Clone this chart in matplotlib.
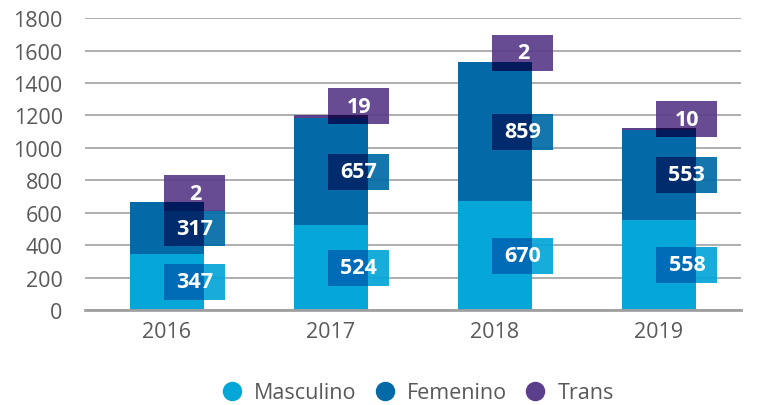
import numpy as np
import matplotlib.pyplot as plt
from matplotlib.lines import Line2D
from matplotlib.patches import Rectangle
from matplotlib.colors import to_rgb

years = ["2016", "2017", "2018", "2019"]
masculino = [347, 524, 670, 558]
femenino = [317, 657, 859, 553]
trans = [2, 19, 2, 10]
series_names = ["Masculino", "Femenino", "Trans"]
yticks = [0, 200, 400, 600, 800, 1000, 1200, 1400, 1600, 1800]

colors = ["#05a6d8", "#036aa7", "#5b3e8c"]
grey_text = "#595959"
font = ["Open Sans", "DejaVu Sans"]

bar_w = 0.45
box_w = 0.372
box_dx = 0.17
box_h = 222
trans_lift = 55


def multiply(c1, c2):
    # the label boxes darken the bar underneath like a multiply blend
    a = np.array(to_rgb(c1))
    b = np.array(to_rgb(c2))
    return tuple(a * b)


fig = plt.figure(figsize=(7.62, 4.06), dpi=100)
ax = fig.add_axes([0.1115, 0.234, 0.861, 0.719])

x = np.arange(len(years))
data = [masculino, femenino, trans]
bottoms = np.zeros(len(years))
segments = []  # (bar index, lo, hi, colour)
for vals, col in zip(data, colors):
    ax.bar(x, vals, bar_w, bottom=bottoms, color=col, zorder=2)
    for i in range(len(years)):
        segments.append((i, bottoms[i], bottoms[i] + vals[i], col))
    bottoms = bottoms + np.array(vals)
totals = bottoms

for k, (vals, col) in enumerate(zip(data, colors)):
    for i in range(len(years)):
        if k == 2:
            yc = totals[i] + trans_lift
        else:
            base = sum(data[j][i] for j in range(k))
            yc = base + vals[i] / 2
        bx0 = x[i] + box_dx - box_w / 2
        by0 = yc - box_h / 2
        ax.add_patch(Rectangle((bx0, by0), box_w, box_h, facecolor=col,
                               alpha=0.93, lw=0, zorder=3))
        ox0 = max(bx0, x[i] - bar_w / 2)
        ox1 = min(bx0 + box_w, x[i] + bar_w / 2)
        for (si, lo, hi, scol) in segments:
            if si != i:
                continue
            oy0 = max(by0, lo)
            oy1 = min(by0 + box_h, hi)
            if oy1 > oy0 and ox1 > ox0:
                ax.add_patch(Rectangle((ox0, oy0), ox1 - ox0, oy1 - oy0,
                                       facecolor=multiply(col, scol),
                                       lw=0, zorder=4))
        ax.text(x[i] + box_dx, yc, str(vals[i]), ha="center", va="center",
                color="white", fontsize=15.5, fontweight="bold",
                family=font, zorder=5)

ax.set_xlim(-0.5, len(years) - 0.5)
ax.set_ylim(0, 1800)
ax.set_yticks(yticks)
ax.set_xticks(x)
ax.set_xticklabels(years)
ax.yaxis.grid(True, color="#a8a8a8", lw=1.3, zorder=0)
ax.set_axisbelow(True)
for s in ["top", "right", "left"]:
    ax.spines[s].set_visible(False)
ax.spines["bottom"].set_color("#a0a0a0")
ax.spines["bottom"].set_linewidth(2)
ax.tick_params(axis="both", length=0, labelsize=15.5, colors=grey_text)
ax.tick_params(axis="x", pad=8)
ax.tick_params(axis="y", pad=16)
for lab in ax.get_xticklabels() + ax.get_yticklabels():
    lab.set_family(font)

handles = [Line2D([], [], marker="o", ls="", markersize=13, color=c)
           for c in colors]
fig.legend(handles, series_names, loc="center",
           bbox_to_anchor=(0.541, 0.03), ncol=3, frameon=False,
           handletextpad=0.05, columnspacing=0.3,
           prop={"family": font, "size": 15.5}, labelcolor=grey_text)

fig.savefig("out.png", dpi=100)
